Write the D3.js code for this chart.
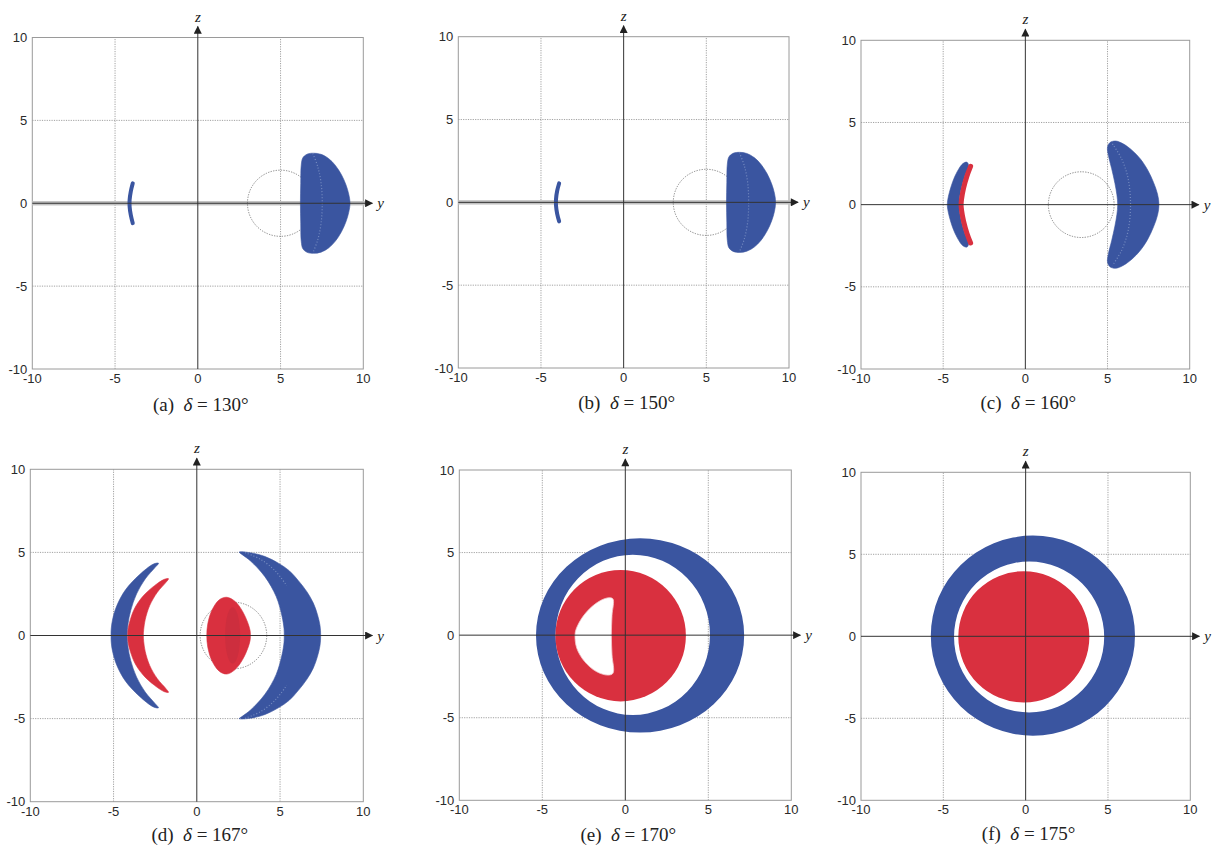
<!DOCTYPE html>
<html>
<head>
<meta charset="utf-8">
<script src="https://cdn.jsdelivr.net/npm/d3@7"></script>
<style>
  html, body { margin: 0; padding: 0; background: #fff; }
  svg { display: block; }
  .tick-label { font-family: "Liberation Sans", Arial, sans-serif; font-size: 13px; fill: #2a2a2a; }
  .caption { font-family: "Liberation Serif", "DejaVu Serif", serif; font-size: 19px; fill: #222; }
  .axis-name { font-family: "Liberation Serif", serif; font-style: italic; font-size: 15px; fill: #222; }
</style>
</head>
<body>
<svg id="fig" width="1226" height="848"></svg>
<script>
// ---- panel labels and angles ----
const panelIds = ["a", "b", "c", "d", "e", "f"];
const deltas = [130, 150, 160, 167, 170, 175];
const tickValues = [-10, -5, 0, 5, 10];
const gridValues = [-5, 5];

// dotted reference circles: [panel, y centre, z centre, radius]
const guideCircles = [
  [0, 5, 0, 2],
  [1, 5, 0, 2],
  [2, 3.4, 0, 2],
  [3, 2.2, 0, 2]
];

// panels (a),(b) show a grey band of points along z = 0
const axisBandPanels = [0, 1];

// filled blue point clouds, outline as [y, z]
const blueRegions = [
  { panel: 0, pts: [[6.2,0],[6.22,1.2],[6.25,2.3],[6.35,2.75],[6.6,2.96],[7.0,3.02],[7.45,2.95],[7.9,2.7],[8.3,2.3],[8.68,1.72],[8.95,1.12],[9.12,0.55],[9.2,0],[9.12,-0.55],[8.95,-1.12],[8.68,-1.72],[8.3,-2.3],[7.9,-2.7],[7.45,-2.95],[7.0,-3.02],[6.6,-2.96],[6.35,-2.75],[6.25,-2.3],[6.22,-1.2]] },
  { panel: 1, pts: [[6.22,0],[6.24,1.2],[6.27,2.3],[6.37,2.75],[6.62,2.96],[7.02,3.02],[7.45,2.95],[7.9,2.7],[8.3,2.3],[8.68,1.72],[8.95,1.12],[9.12,0.55],[9.19,0],[9.12,-0.55],[8.95,-1.12],[8.68,-1.72],[8.3,-2.3],[7.9,-2.7],[7.45,-2.95],[7.02,-3.02],[6.62,-2.96],[6.37,-2.75],[6.27,-2.3],[6.24,-1.2]] },
  { panel: 2, pts: [[-3.55,2.58],[-3.8,2.5],[-4.15,2.0],[-4.42,1.4],[-4.62,0.75],[-4.72,0.3],[-4.75,0],[-4.72,-0.3],[-4.62,-0.75],[-4.42,-1.4],[-4.15,-2.0],[-3.8,-2.5],[-3.55,-2.58],[-3.45,-2.35],[-3.7,-1.7],[-3.92,-0.9],[-4.02,-0.3],[-4.04,0],[-4.02,0.3],[-3.92,0.9],[-3.7,1.7],[-3.45,2.35]] },
  { panel: 2, pts: [[5.0,3.5],[5.15,3.78],[5.5,3.87],[5.95,3.7],[6.5,3.3],[7.0,2.78],[7.45,2.1],[7.8,1.35],[8.04,0.65],[8.13,0],[8.04,-0.65],[7.8,-1.35],[7.45,-2.1],[7.0,-2.78],[6.5,-3.3],[5.95,-3.7],[5.5,-3.87],[5.15,-3.78],[5.0,-3.5],[5.05,-3.0],[5.25,-2.2],[5.45,-1.3],[5.57,-0.6],[5.62,0],[5.57,0.6],[5.45,1.3],[5.25,2.2],[5.05,3.0]] },
  { panel: 3, pts: [[-2.3,4.35],[-2.6,4.3],[-3.45,3.65],[-4.28,2.75],[-4.8,1.8],[-5.05,1.0],[-5.14,0.4],[-5.15,0],[-5.14,-0.4],[-5.05,-1.0],[-4.8,-1.8],[-4.28,-2.75],[-3.45,-3.65],[-2.6,-4.3],[-2.3,-4.35],[-2.5,-4.1],[-3.1,-3.4],[-3.62,-2.5],[-3.97,-1.5],[-4.13,-0.7],[-4.18,0],[-4.13,0.7],[-3.97,1.5],[-3.62,2.5],[-3.1,3.4],[-2.5,4.1]] },
  { panel: 3, pts: [[2.55,5.02],[3.2,4.98],[4.1,4.75],[4.9,4.35],[5.55,3.9],[6.1,3.3],[6.6,2.65],[7.0,1.95],[7.25,1.25],[7.4,0.6],[7.44,0],[7.4,-0.6],[7.25,-1.25],[7.0,-1.95],[6.6,-2.65],[6.1,-3.3],[5.55,-3.9],[4.9,-4.35],[4.1,-4.75],[3.2,-4.98],[2.55,-5.0],[2.75,-4.85],[3.21,-4.5],[4.09,-3.54],[4.77,-2.34],[5.12,-1.15],[5.24,-0.4],[5.25,0],[5.24,0.4],[5.12,1.15],[4.77,2.34],[4.09,3.54],[3.21,4.5],[2.75,4.85]] }
];

// filled red point clouds, outline as [y, z]
const redRegions = [
  { panel: 3, pts: [[-1.7,3.42],[-1.95,3.38],[-2.54,3.0],[-3.2,2.4],[-3.7,1.7],[-3.98,1.0],[-4.12,0.45],[-4.15,0],[-4.12,-0.45],[-3.98,-1.0],[-3.7,-1.7],[-3.2,-2.4],[-2.54,-3.0],[-1.95,-3.38],[-1.7,-3.42],[-1.85,-3.2],[-2.37,-2.6],[-2.83,-1.8],[-3.1,-0.95],[-3.19,-0.35],[-3.21,0],[-3.19,0.35],[-3.1,0.95],[-2.83,1.8],[-2.37,2.6],[-1.85,3.2]] },
  { panel: 3, pts: [[1.8,2.3],[2.3,2.05],[2.75,1.45],[3.05,0.8],[3.2,0.3],[3.22,0],[3.2,-0.3],[3.05,-0.8],[2.75,-1.45],[2.3,-2.05],[1.8,-2.32],[1.35,-2.15],[0.9,-1.5],[0.66,-0.7],[0.6,0],[0.66,0.7],[0.9,1.5],[1.35,2.15]] }
];

// denser core inside the central red cloud of (d): [panel, y, z, ry, rz]
const redCores = [[3, 2.15, 0, 0.45, 1.7]];

// thin arcs of points, centre line as [y, z]
const blueArcs = [
  { panel: 0, pts: [[-3.93,1.2],[-4.05,0.7],[-4.12,0.2],[-4.12,-0.2],[-4.05,-0.7],[-3.93,-1.2]] },
  { panel: 1, pts: [[-3.9,1.15],[-4.02,0.7],[-4.09,0.2],[-4.09,-0.2],[-4.02,-0.7],[-3.9,-1.15]] }
];
const redArcs = [
  { panel: 2, pts: [[-3.33,2.33],[-3.55,1.75],[-3.76,1.0],[-3.88,0.35],[-3.91,0],[-3.88,-0.35],[-3.76,-1.0],[-3.55,-1.75],[-3.33,-2.33]] }
];

// lighter streaks inside the blue clouds, as [y, z]
const streaks = [
  { panel: 0, pts: [[6.95,3.0],[7.25,2.2],[7.45,1.2],[7.52,0],[7.45,-1.2],[7.25,-2.2],[6.95,-3.0]] },
  { panel: 1, pts: [[7.0,3.0],[7.3,2.2],[7.5,1.2],[7.56,0],[7.5,-1.2],[7.3,-2.2],[7.0,-3.0]] },
  { panel: 2, pts: [[5.3,3.7],[5.85,2.8],[6.25,1.6],[6.4,0],[6.25,-1.6],[5.85,-2.8],[5.3,-3.7]] },
  { panel: 3, pts: [[2.9,4.98],[3.8,4.6],[4.7,3.9],[5.4,3.0]] },
  { panel: 3, pts: [[2.9,-4.98],[3.8,-4.6],[4.7,-3.9],[5.4,-3.0]] }
];

// blue rings: [panel, outer (y, z, ry, rz), inner (y, z, ry, rz)]
const blueRings = [
  [4, [0.89, -0.02, 6.27, 5.88], [0.45, 0.02, 4.65, 4.85]],
  [5, [0.44, 0.04, 6.2, 6.1], [0.21, -0.04, 4.56, 4.6]]
];
// red discs: [panel, y, z, ry, rz]
const redDiscs = [
  [4, -0.28, -0.03, 3.93, 3.98],
  [5, -0.11, -0.03, 3.98, 4.0]
];
// empty pocket inside the red disc of (e), outline as [y, z]
const redVoids = [
  { panel: 4, pts: [[-0.75,2.2],[-1.1,2.25],[-1.8,1.9],[-2.5,1.2],[-2.95,0.4],[-3.03,0],[-2.92,-0.8],[-2.45,-1.6],[-1.75,-2.2],[-1.05,-2.42],[-0.74,-2.3],[-0.8,-1.2],[-0.84,0],[-0.8,1.2]] }
];

// ---- layout of the six plot boxes: left, top, width, height ----
const layout = [
  [32.3, 37.5, 331, 331.5],
  [458.3, 36.7, 330.7, 331.3],
  [861, 40.3, 328.7, 328.7],
  [30.3, 469.3, 333, 332.4],
  [459.3, 470, 332, 330.3],
  [861, 472.3, 329.3, 328]
];
const captionBaseline = [411, 409, 409, 841, 841, 840];

const BLUE = "#3a55a0";
const RED = "#d9303f";

const svg = d3.select("#fig");

// arrowhead marker
const defs = svg.append("defs");
defs.append("marker")
  .attr("id", "arrow")
  .attr("viewBox", "0 0 10 10")
  .attr("refX", 9).attr("refY", 5)
  .attr("markerWidth", 10).attr("markerHeight", 8)
  .attr("markerUnits", "userSpaceOnUse")
  .attr("orient", "auto")
  .append("path").attr("d", "M0,0 L10,5 L0,10 Z").attr("fill", "#222");

const closedLine = (x, y) => d3.line().x(d => x(d[0])).y(d => y(d[1])).curve(d3.curveCatmullRomClosed.alpha(0.5));
const openLine = (x, y) => d3.line().x(d => x(d[0])).y(d => y(d[1])).curve(d3.curveCatmullRom.alpha(0.5));

function ellipsePath(x, y, e) {
  const cx = x(e[0]), cy = y(e[1]);
  const rx = x(e[0] + e[2]) - cx, ry = cy - y(e[1] + e[3]);
  return `M${cx - rx},${cy} A${rx},${ry} 0 1 0 ${cx + rx},${cy} A${rx},${ry} 0 1 0 ${cx - rx},${cy} Z`;
}

panelIds.forEach((id, i) => {
  const [L, T, W, H] = layout[i];
  const x = d3.scaleLinear().domain([-10, 10]).range([L, L + W]);
  const y = d3.scaleLinear().domain([-10, 10]).range([T + H, T]);
  const g = svg.append("g").attr("class", "panel-" + id);

  // dotted grid
  const grid = g.append("g");
  gridValues.forEach(v => {
    grid.append("line").attr("x1", x(v)).attr("x2", x(v)).attr("y1", y(-10)).attr("y2", y(10))
      .attr("stroke", "#8a8a8a").attr("stroke-width", 0.8).attr("stroke-dasharray", "1.2,1.2");
    grid.append("line").attr("y1", y(v)).attr("y2", y(v)).attr("x1", x(-10)).attr("x2", x(10))
      .attr("stroke", "#8a8a8a").attr("stroke-width", 0.8).attr("stroke-dasharray", "1.2,1.2");
  });

  // plot box
  g.append("rect").attr("x", L).attr("y", T).attr("width", W).attr("height", H)
    .attr("fill", "none").attr("stroke", "#9a9a9a").attr("stroke-width", 1);

  // tick labels
  tickValues.forEach(v => {
    g.append("text").attr("class", "tick-label")
      .attr("x", L - 5).attr("y", y(v)).attr("dy", "0.35em")
      .attr("text-anchor", "end").text(v);
    g.append("text").attr("class", "tick-label")
      .attr("x", x(v)).attr("y", T + H + 14)
      .attr("text-anchor", "middle").text(v);
  });

  // grey band of points along z = 0
  if (axisBandPanels.includes(i)) {
    g.append("rect").attr("x", x(-10)).attr("width", x(10) + 4 - x(-10))
      .attr("y", y(0) - 2.2).attr("height", 4.4).attr("fill", "#c2c2c2");
  }

  // dotted reference circles
  guideCircles.filter(c => c[0] === i).forEach(c => {
    g.append("circle").attr("cx", x(c[1])).attr("cy", y(c[2])).attr("r", x(c[1] + c[3]) - x(c[1]))
      .attr("fill", "none").attr("stroke", "#6a6a6a").attr("stroke-width", 0.8).attr("stroke-dasharray", "1.3,1.3");
  });

  // rings and discs
  blueRings.filter(r => r[0] === i).forEach(r => {
    g.append("path").attr("d", ellipsePath(x, y, r[1]) + " " + ellipsePath(x, y, r[2]))
      .attr("fill", BLUE).attr("fill-rule", "evenodd");
  });
  redDiscs.filter(r => r[0] === i).forEach(r => {
    g.append("path").attr("d", ellipsePath(x, y, r.slice(1))).attr("fill", RED);
  });
  redVoids.filter(r => r.panel === i).forEach(r => {
    g.append("path").attr("d", closedLine(x, y)(r.pts)).attr("fill", "#fff")
      .attr("stroke", "#f2c9cd").attr("stroke-width", 0.8);
  });

  // blue clouds and arcs
  blueRegions.filter(r => r.panel === i).forEach(r => {
    g.append("path").attr("d", closedLine(x, y)(r.pts)).attr("fill", BLUE)
      .attr("stroke", BLUE).attr("stroke-width", 0.6);
  });
  blueArcs.filter(r => r.panel === i).forEach(r => {
    g.append("path").attr("d", openLine(x, y)(r.pts)).attr("fill", "none")
      .attr("stroke", BLUE).attr("stroke-width", 4).attr("stroke-linecap", "round");
  });
  streaks.filter(r => r.panel === i).forEach(r => {
    g.append("path").attr("d", openLine(x, y)(r.pts)).attr("fill", "none")
      .attr("stroke", "#9fb0d6").attr("stroke-width", 1.2).attr("stroke-dasharray", "1,2").attr("opacity", 0.6);
  });

  // red clouds and arcs
  redRegions.filter(r => r.panel === i).forEach(r => {
    g.append("path").attr("d", closedLine(x, y)(r.pts)).attr("fill", RED)
      .attr("stroke", RED).attr("stroke-width", 0.6);
  });
  redCores.filter(c => c[0] === i).forEach(c => {
    g.append("ellipse").attr("cx", x(c[1])).attr("cy", y(c[2]))
      .attr("rx", x(c[1] + c[3]) - x(c[1])).attr("ry", y(c[2]) - y(c[2] + c[4]))
      .attr("fill", "#b22a3a").attr("opacity", 0.3);
  });
  redArcs.filter(r => r.panel === i).forEach(r => {
    g.append("path").attr("d", openLine(x, y)(r.pts)).attr("fill", "none")
      .attr("stroke", RED).attr("stroke-width", 5).attr("stroke-linecap", "round");
  });

  // coordinate axes with arrows
  g.append("line").attr("x1", x(-10)).attr("x2", x(10) + 9).attr("y1", y(0)).attr("y2", y(0))
    .attr("stroke", "#333").attr("stroke-width", 1).attr("marker-end", "url(#arrow)");
  g.append("line").attr("x1", x(0)).attr("x2", x(0)).attr("y1", y(-10)).attr("y2", y(10) - 11)
    .attr("stroke", "#333").attr("stroke-width", 1).attr("marker-end", "url(#arrow)");
  g.append("text").attr("class", "axis-name").attr("x", x(10) + 14).attr("y", y(0) + 5).text("y");
  g.append("text").attr("class", "axis-name").attr("x", x(0)).attr("y", y(10) - 16)
    .attr("text-anchor", "middle").text("z");

  // caption
  const cap = g.append("text").attr("class", "caption")
    .attr("x", L + W / 2 + 3).attr("y", captionBaseline[i]).attr("text-anchor", "middle");
  cap.append("tspan").text("(" + id + ")\u00a0\u00a0");
  cap.append("tspan").attr("font-style", "italic").text("\u03b4");
  cap.append("tspan").text("\u00a0=\u00a0" + deltas[i] + "\u00b0");
});
</script>
</body>
</html>
